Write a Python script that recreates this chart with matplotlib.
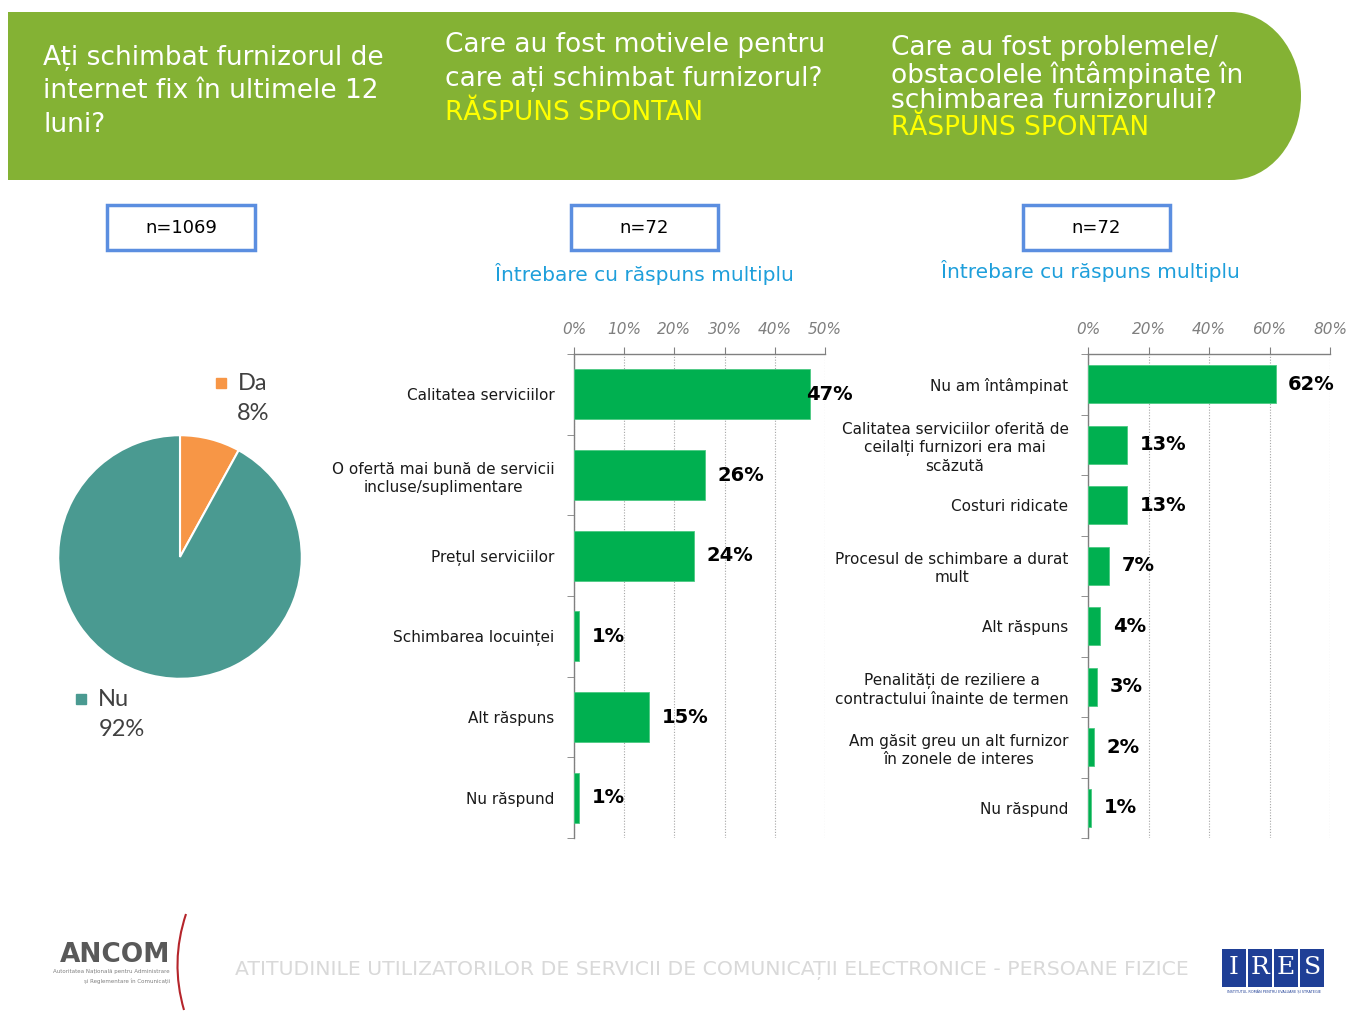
import matplotlib
matplotlib.use('Agg')
import matplotlib.pyplot as plt
import numpy as np
from matplotlib.patches import Rectangle, Ellipse, PathPatch
from matplotlib.path import Path

# figure size in pixels
W, H = 1349, 1011

# data
pie_labels = ['Da', 'Nu']
pie_values = [8, 92]
pie_colors = ['#F79646', '#4A9A91']

reasons = ['Calitatea serviciilor',
           'O ofertă mai bună de servicii\nincluse/suplimentare',
           'Prețul serviciilor',
           'Schimbarea locuinței',
           'Alt răspuns',
           'Nu răspund']
reasons_vals = [47, 26, 24, 1, 15, 1]

problems = ['Nu am întâmpinat',
            'Calitatea serviciilor oferită de\nceilalți furnizori era mai\nscăzută',
            'Costuri ridicate',
            'Procesul de schimbare a durat\nmult',
            'Alt răspuns',
            'Penalități de reziliere a\ncontractului înainte de termen',
            'Am găsit greu un alt furnizor\nîn zonele de interes',
            'Nu răspund']
problems_vals = [62, 13, 13, 7, 4, 3, 2, 1]

sample_sizes = ['n=1069', 'n=72', 'n=72']

GREEN_HDR = '#84B234'
BAR_GREEN = '#00B050'
BLUE_TXT = '#1E9FDB'


def px_axes(x0, y0, x1, y1):
    """add axes using pixel coords (origin top-left)"""
    return fig.add_axes([x0 / W, 1 - y1 / H, (x1 - x0) / W, (y1 - y0) / H])


fig = plt.figure(figsize=(W / 100, H / 100), dpi=100)
fig.patch.set_facecolor('white')

bg = fig.add_axes([0, 0, 1, 1])
bg.set_xlim(0, W)
bg.set_ylim(H, 0)
bg.axis('off')

# header band with rounded right end
bg.add_patch(Rectangle((8, 12), 1231 - 8, 168, facecolor=GREEN_HDR, edgecolor='none'))
bg.add_patch(Ellipse((1231, 96), 140, 168, facecolor=GREEN_HDR, edgecolor='none'))


def header_block(x, y0, step, white_lines, yellow_lines):
    for i, line in enumerate(white_lines):
        bg.text(x, y0 + i * step, line, color='white', fontsize=19, va='center', ha='left')
    for j, line in enumerate(yellow_lines):
        bg.text(x, y0 + (len(white_lines) + j) * step, line, color='#FFFF00',
                fontsize=19, va='center', ha='left')


header_block(43, 58, 33.5, ['Ați schimbat furnizorul de', 'internet fix în ultimele 12', 'luni?'], [])
header_block(445, 45, 34, ['Care au fost motivele pentru', 'care ați schimbat furnizorul?'],
             ['RĂSPUNS SPONTAN'])
header_block(891, 48, 26.7, ['Care au fost problemele/', 'obstacolele întâmpinate în',
                             'schimbarea furnizorului?'], ['RĂSPUNS SPONTAN'])

# n= boxes
for (x0, x1), lab in zip([(107, 255), (571, 718), (1023, 1170)], sample_sizes):
    bg.add_patch(Rectangle((x0, 205), x1 - x0, 45, facecolor='white',
                           edgecolor='#5B8EE0', linewidth=2.5))
    bg.text((x0 + x1) / 2, 228, lab, fontsize=13, ha='center', va='center', color='black')

bg.text(644, 274, 'Întrebare cu răspuns multiplu', color=BLUE_TXT, fontsize=14.5,
        ha='center', va='center')
bg.text(1090, 271, 'Întrebare cu răspuns multiplu', color=BLUE_TXT, fontsize=14.5,
        ha='center', va='center')

# pie
pax = px_axes(57, 434, 303, 680)
pax.pie(pie_values, colors=pie_colors, startangle=90, counterclock=False,
        wedgeprops=dict(edgecolor='white', linewidth=1.5))
pax.set_xlim(-1.01, 1.01)
pax.set_ylim(-1.01, 1.01)

# pie data labels
pie_label_pos = [(221, 384, 253, 414), (81, 700, 122, 730)]
for (sx, sy, vx, vy), lab, val, col in zip(pie_label_pos, pie_labels, pie_values, pie_colors):
    bg.plot(sx, sy - 1, marker='s', markersize=7, color=col, linestyle='none')
    bg.text(sx + 17, sy, lab, fontsize=17, family='Lato', color='#404040', va='center', ha='left')
    bg.text(vx, vy, f'{val}%', fontsize=17, family='Lato', color='#404040', va='center', ha='center')


def bar_panel(rect, cats, vals, xmax, step):
    ax = px_axes(*rect)
    y = np.arange(len(cats))
    v = np.array(vals) / 100
    ax.barh(y, v, height=0.62, color=BAR_GREEN, edgecolor='#4CC983', linewidth=0.6, zorder=3)
    ax.set_xlim(0, xmax)
    ax.set_ylim(len(cats) - 0.5, -0.5)

    ax.xaxis.set_ticks_position('top')
    ticks = np.arange(0, xmax + 1e-9, step)
    ax.set_xticks(ticks)
    ax.set_xticklabels([f'{t * 100:.0f}%' for t in ticks], style='italic',
                       color='#7F7F7F', fontsize=11)
    ax.tick_params(axis='x', length=5, color='#808080', pad=7)

    ax.set_yticks(y)
    ax.set_yticklabels(cats, fontsize=11, linespacing=1.25, multialignment='center',
                       color='#1A1A1A')
    ax.tick_params(axis='y', which='major', length=0, pad=14)
    ax.set_yticks(np.arange(len(cats) + 1) - 0.5, minor=True)
    ax.tick_params(axis='y', which='minor', length=5, color='#808080')

    for s in ['right', 'bottom']:
        ax.spines[s].set_visible(False)
    for s in ['top', 'left']:
        ax.spines[s].set_color('#808080')
        ax.spines[s].set_linewidth(1)

    ax.grid(axis='x', linestyle=(0, (1, 1.5)), color='#A6A6A6', linewidth=0.8)
    ax.set_axisbelow(True)

    for yi, val in zip(y, vals):
        off = -3 if val / 100 > 0.9 * xmax else 9
        ax.annotate(f'{val}%', xy=(val / 100, yi), xytext=(off, 0), textcoords='offset points',
                    ha='left', va='center', fontsize=14, fontweight='bold', color='black',
                    zorder=5, annotation_clip=False)
    return ax


bar_panel((574, 354, 825, 838), reasons, reasons_vals, 0.5, 0.1)
bar_panel((1088, 354, 1330, 838), problems, problems_vals, 0.8, 0.2)

# footer
bg.text(235, 971, 'ATITUDINILE UTILIZATORILOR DE SERVICII DE COMUNICAȚII ELECTRONICE - PERSOANE FIZICE',
        color='#D9D9D9', fontsize=14.7, ha='left', va='center')

# ANCOM logo
bg.text(170, 955, 'ANCOM', color='#595959', fontsize=19, fontweight='bold', ha='right', va='center')
bg.text(170, 972, 'Autoritatea Națională pentru Administrare', color='#7F7F7F', fontsize=4,
        ha='right', va='center')
bg.text(170, 981, 'și Reglementare în Comunicații', color='#7F7F7F', fontsize=4,
        ha='right', va='center')
arc = Path([(186, 914), (170, 962), (184, 1010)], [Path.MOVETO, Path.CURVE3, Path.CURVE3])
bg.add_patch(PathPatch(arc, facecolor='none', edgecolor='#B5252B', linewidth=1.5))

# IRES logo
for i, ch in enumerate('IRES'):
    x0 = 1222 + i * 26
    bg.add_patch(Rectangle((x0, 949), 24, 38, facecolor='#1F3F96', edgecolor='none'))
    bg.text(x0 + 12, 968, ch, color='white', fontsize=18, family='DejaVu Serif',
            ha='center', va='center')
bg.text(1274, 992, 'INSTITUTUL ROMÂN PENTRU EVALUARE ȘI STRATEGIE', color='#1F3F96',
        fontsize=2.5, ha='center', va='center')

fig.savefig('out.png', dpi=100)
